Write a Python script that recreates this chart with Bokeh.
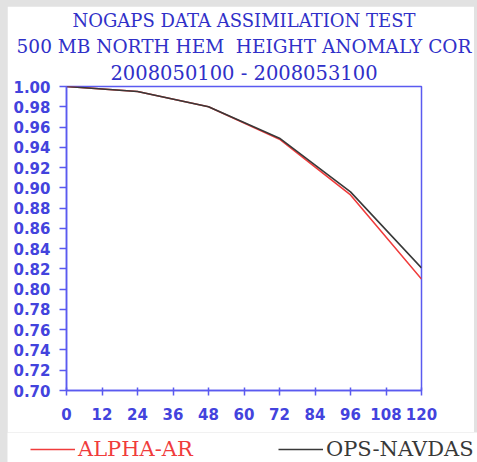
from bokeh.plotting import figure
from bokeh.layouts import column, row
from bokeh.models import Range1d, FixedTicker, Legend, LegendItem, Title, CustomJSTickFormatter
from bokeh.embed import file_html
from bokeh.resources import INLINE

# ---- data ----
forecast_hours = [0, 24, 48, 72, 96, 120]
alpha_ar = [1.000, 0.995, 0.980, 0.948, 0.893, 0.810]
ops_navdas = [1.000, 0.995, 0.980, 0.949, 0.896, 0.821]
x_ticks = [0, 12, 24, 36, 48, 60, 72, 84, 96, 108, 120]
y_ticks = [0.70, 0.72, 0.74, 0.76, 0.78, 0.80, 0.82, 0.84, 0.86, 0.88, 0.90,
           0.92, 0.94, 0.96, 0.98, 1.00]
title_lines = ["NOGAPS DATA ASSIMILATION TEST",
               "500 MB NORTH HEM\u00a0\u00a0HEIGHT ANOMALY COR",
               "2008050100 - 2008053100"]
title_sizes = ["18px", "18.5px", "19.5px"]
series_names = ["ALPHA-AR", "OPS-NAVDAS"]

AXIS_BLUE = "#5a5af0"
TEXT_BLUE = "#4343dd"
TITLE_BLUE = "#3030c8"
RED = "#f03c3c"
DARK = "#383838"
SERIF = "DejaVu Serif"

p = figure(width=467, height=426, output_backend="svg", toolbar_location=None,
           x_range=Range1d(0, 120), y_range=Range1d(0.70, 1.00),
           min_border_left=59, min_border_right=53, min_border_top=80,
           min_border_bottom=42, title=None)
p.background_fill_color = "white"
p.border_fill_color = "white"
p.outline_line_color = AXIS_BLUE
p.outline_line_width = 1.5
p.xgrid.visible = False
p.ygrid.visible = False

for line, size in reversed(list(zip(title_lines, title_sizes))):
    t = Title(text=line, align="center", offset=-3,
              text_font=SERIF, text_font_size=size,
              text_font_style="normal", text_color=TITLE_BLUE, standoff=3)
    p.add_layout(t, "above")

for ax in (p.xaxis[0], p.yaxis[0]):
    ax.axis_line_color = AXIS_BLUE
    ax.axis_line_width = 1.5
    ax.major_tick_line_color = AXIS_BLUE
    ax.major_tick_line_width = 1.5
    ax.minor_tick_line_color = None
    ax.major_label_text_color = TEXT_BLUE
    ax.major_label_text_font = "DejaVu Sans"
    ax.major_label_text_font_style = "bold"
    ax.major_label_text_font_size = "15px"

p.xaxis.ticker = FixedTicker(ticks=x_ticks)
p.yaxis.ticker = FixedTicker(ticks=y_ticks)
p.yaxis.formatter = CustomJSTickFormatter(code="return tick.toFixed(2);")
p.xaxis.major_tick_in = 3
p.xaxis.major_tick_out = 5
p.xaxis.major_label_standoff = 12
p.yaxis.major_tick_in = 0
p.yaxis.major_tick_out = 7
p.yaxis.major_label_standoff = 9

p.line(forecast_hours, alpha_ar, line_color=RED, line_width=1.6)
p.line(forecast_hours, ops_navdas, line_color=DARK, line_width=1.6)

# legend strip below the chart (its frame shows no data, only the legends)
p2 = figure(width=470, height=30, output_backend="svg", toolbar_location=None,
            x_range=Range1d(-20, -10), y_range=Range1d(0, 1),
            min_border_left=0, min_border_right=0, min_border_top=0,
            min_border_bottom=0, x_axis_location=None, y_axis_location=None,
            title=None)
p2.outline_line_color = None
p2.xgrid.visible = False
p2.ygrid.visible = False
p2.background_fill_color = "white"
p2.border_fill_color = "white"
k1 = p2.line(forecast_hours, alpha_ar, line_color=RED, line_width=1.6)
k2 = p2.line(forecast_hours, ops_navdas, line_color=DARK, line_width=1.6)

def make_legend(name, r, color, loc):
    lg = Legend(items=[LegendItem(label=name, renderers=[r])], location=loc,
                orientation="horizontal", padding=0, margin=0, spacing=0,
                glyph_width=45, glyph_height=20, label_height=20,
                label_standoff=3, label_text_font=SERIF,
                label_text_font_size="21px", label_text_color=color,
                border_line_color=None, background_fill_alpha=0)
    p2.add_layout(lg)

make_legend(series_names[0], k1, RED, (23, 1))
make_legend(series_names[1], k2, DARK, (271, 1))

layout = column(p, row(p2), spacing=0)
layout.margin = (6, 0, 0, 7)

html = file_html(layout, INLINE)
html = html.replace("<head>", "<head><style>html,body{margin:0;padding:0;background:#e2e2e2;}</style>", 1)
open("out.html", "w").write(html)
